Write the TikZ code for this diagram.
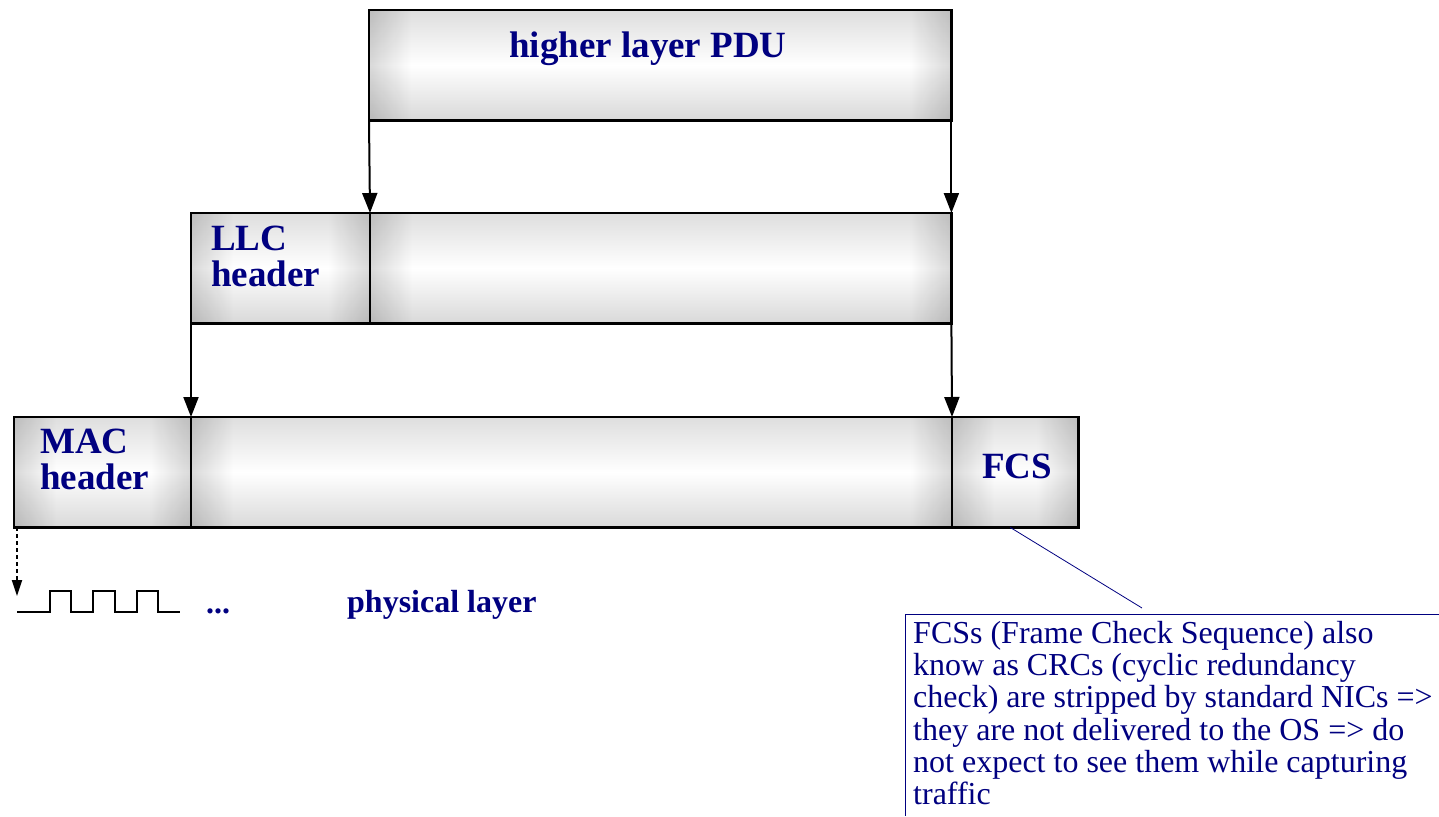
\documentclass[tikz,border=0pt]{standalone}
\usepackage{fontspec}
\setmainfont{Liberation Serif}
\usetikzlibrary{arrows.meta}
\definecolor{navy}{RGB}{0,0,128}
\begin{document}
\begin{tikzpicture}[x=1pt,y=-1pt,
  cell/.style={anchor=north west, inner sep=0pt, minimum height=110pt},
  big/.style={text=navy, font=\fontsize{37}{36}\selectfont\bfseries, inner sep=0pt, align=left},
  mid/.style={text=navy, font=\fontsize{32}{34}\selectfont\bfseries, inner sep=0pt},
  flow/.style={line width=2pt, -{Triangle[width=15pt,length=20pt]}},
  ]
\useasboundingbox (0,0) rectangle (1439,816);
% boxes (positions)
\path node[cell, minimum width=582pt] (pdu) at (369,10) {}
      node[cell, minimum width=179pt] (llchdr) at (191,213) {}
      node[cell, minimum width=581pt] (llcdata) at (370,213) {}
      node[cell, minimum width=177pt] (machdr) at (14,417) {}
      node[cell, minimum width=761pt] (macdata) at (191,417) {}
      node[cell, minimum width=126pt] (fcs) at (952,417) {};
% shading and borders
\foreach \n in {pdu,llchdr,llcdata,machdr,macdata,fcs} {
  \shade[top color=gray!26, bottom color=gray!30, middle color=white]
    (\n.north west) rectangle (\n.south east);
  \begin{scope}[blend mode=multiply]
    \shade[left color=gray!30, right color=white]
      (\n.north west) rectangle ([xshift=42pt]\n.south west);
    \shade[left color=white, right color=gray!30]
      ([xshift=-42pt]\n.north east) rectangle (\n.south east);
  \end{scope}
  \draw[line width=2.2pt] (\n.north west) rectangle (\n.south east);
}
% labels
\node[big, anchor=base west] (pdutext) at (509,57) {higher layer PDU};
\node[big, anchor=north west] (llctext) at (211,226) {LLC\\header};
\node[big, anchor=north west] (mactext) at (40,429) {MAC\\header};
\node[big, anchor=base west] (fcstext) at (982,478) {FCS};
% arrows
\draw[flow] (pdu.south west) -- (llcdata.north west);
\draw[flow] (pdu.south east) -- (llcdata.north east);
\draw[flow] (llchdr.south west) -- (macdata.north west);
\draw[flow] (llcdata.south east) -- (fcs.north west);
% physical layer
\coordinate (sig) at (17,596);
\draw[line width=2pt, dash pattern=on 4pt off 3pt, -{Triangle[width=10pt,length=16pt]}]
  ([xshift=3pt]machdr.south west) -- (sig);
\draw[line width=2pt] (17,612) -- (50,612) -- (50,591) -- (71,591) -- (71,612)
  -- (93,612) -- (93,591) -- (115,591) -- (115,612) -- (137,612) -- (137,591)
  -- (158,591) -- (158,612) -- (180,612);
\node[mid, anchor=base west] (dots) at (206,613) {...};
\node[mid, anchor=base west] (phys) at (347,612) {physical layer};
% callout
\draw[navy, line width=1pt] (1439,614) -- (905,614) -- (905,816);
\node[anchor=north west, inner sep=0pt, align=left, text=navy,
  font=\fontsize{32}{32.2}\selectfont] (note) at (913,621)
  {FCSs (Frame Check Sequence) also\\
   know as CRCs (cyclic redundancy\\
   check) are stripped by standard NICs =>\\
   they are not delivered to the OS => do\\
   not expect to see them while capturing\\
   traffic};
\coordinate (callend) at (1142,608);
\draw[navy, line width=0.8pt] ([xshift=-5pt]fcs.south) -- (callend);
\end{tikzpicture}
\end{document}
